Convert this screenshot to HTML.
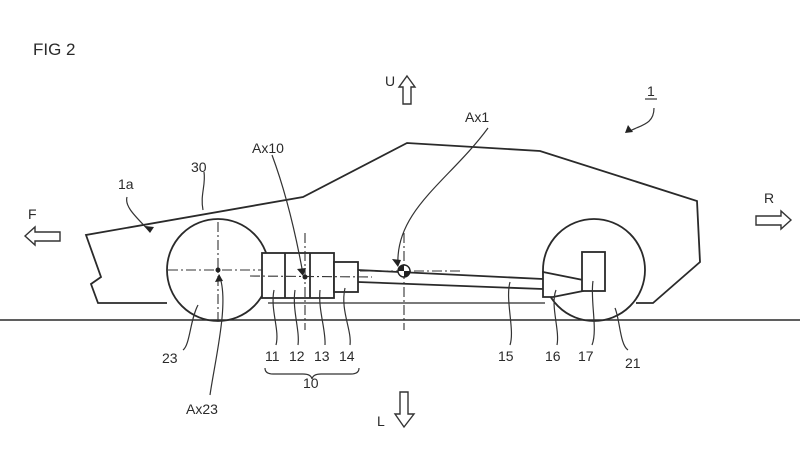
<!DOCTYPE html>
<html><head><meta charset="utf-8"><style>
html,body{margin:0;padding:0;background:#fff;}
svg{display:block;}
text{font-family:"Liberation Sans",sans-serif;fill:#2a2a2a;}
</style></head><body>
<svg width="800" height="450" viewBox="0 0 800 450" xmlns="http://www.w3.org/2000/svg">
<g fill="none" stroke="#2a2a2a" stroke-width="1.8">
<polyline points="167,303 98,303 91,284 101,277 86,235 303,197 407,143 540,151 697,201 700,262 653,303 636,303"/>
<line x1="0" y1="320" x2="800" y2="320" stroke-width="1.5"/>
<line x1="268" y1="303" x2="545" y2="303" stroke-width="1.3"/>
<circle cx="218" cy="270" r="51"/>
<circle cx="594" cy="270" r="51"/>
<rect x="262" y="253" width="72" height="45" fill="#fff"/>
<line x1="285" y1="253" x2="285" y2="298"/>
<line x1="310" y1="253" x2="310" y2="298"/>
<rect x="334" y="262" width="24" height="30" fill="#fff"/>
<line x1="358" y1="270" x2="543" y2="279"/>
<line x1="358" y1="282" x2="543" y2="289"/>
<polygon points="543,272 583,280 583,291 553,297 543,297" fill="#fff"/>
<rect x="582" y="252" width="23" height="39" fill="#fff"/>
</g>
<g stroke="#333" stroke-width="1.1" stroke-dasharray="10,3,2,3" fill="none">
<line x1="218" y1="222" x2="218" y2="320"/>
<line x1="168" y1="270" x2="262" y2="270"/>
<line x1="250" y1="276" x2="372" y2="277"/>
<line x1="305" y1="233" x2="305" y2="330"/>
<line x1="404" y1="233" x2="404" y2="330"/>
<line x1="360" y1="271" x2="460" y2="271"/>
</g>
<circle cx="218" cy="270" r="2.5" fill="#222"/>
<circle cx="305" cy="277" r="2.5" fill="#222"/>
<circle cx="404" cy="271" r="6" fill="#fff" stroke="#222" stroke-width="1.4"/>
<path d="M404,271 L404,265 A6,6 0 0 0 398,271 Z M404,271 L404,277 A6,6 0 0 0 410,271 Z" fill="#222"/>
<g fill="none" stroke="#333" stroke-width="1.2">
<path d="M127,197 C124,208 140,220 150,232"/>
<path d="M204,172 C206,185 200,195 203,210"/>
<path d="M272,155 C285,190 295,230 303,274"/>
<path d="M488,128 C450,180 395,210 398,265"/>
<path d="M654,108 C654,125 640,125 628,132"/>
<path d="M219,275 C230,300 215,360 210,395"/>
<path d="M198,305 C190,320 190,345 183,350"/>
<path d="M274,290 C270,310 280,330 276,345"/>
<path d="M295,290 C292,310 300,330 298,345"/>
<path d="M320,290 C318,310 326,330 325,345"/>
<path d="M345,288 C340,310 352,330 350,345"/>
<path d="M510,282 C505,300 515,330 510,345"/>
<path d="M556,290 C550,305 560,330 557,345"/>
<path d="M593,281 C590,300 598,330 592,345"/>
<path d="M615,308 C620,320 620,345 628,350"/>
<path d="M265,368 q0,6 8,6 h30 q8,0 9,5 q1,-5 9,-5 h30 q8,0 8,-6"/>
</g>
<g fill="#222">
<polygon points="150,233 145,226 154,227"/>
<polygon points="303,276 297,269 306,268"/>
<polygon points="398,267 392,259 401,260"/>
<polygon points="625,133 628,125 633,132"/>
<polygon points="219,274 215,282 223,281"/>
</g>
<g fill="#fff" stroke="#333" stroke-width="1.4">
<polygon points="407,76 415,87 411,87 411,104 403,104 403,87 399,87"/>
<polygon points="404,427 414,414 408,414 408,392 400,392 400,414 395,414"/>
<polygon points="25,236 35,227 35,232 60,232 60,241 35,241 35,245"/>
<polygon points="791,220 781,211 781,216 756,216 756,225 781,225 781,229"/>
</g>
<line x1="645" y1="99" x2="657" y2="99" stroke="#333" stroke-width="1.2"/>
<g font-size="14">
<text x="33" y="55" font-size="17">FIG 2</text>
<text x="385" y="86">U</text>
<text x="377" y="426">L</text>
<text x="28" y="219">F</text>
<text x="764" y="203">R</text>
<text x="647" y="96">1</text>
<text x="465" y="122">Ax1</text>
<text x="118" y="189">1a</text>
<text x="191" y="172">30</text>
<text x="252" y="153">Ax10</text>
<text x="162" y="363">23</text>
<text x="265" y="361">11</text>
<text x="289" y="361">12</text>
<text x="314" y="361">13</text>
<text x="339" y="361">14</text>
<text x="303" y="388">10</text>
<text x="186" y="414">Ax23</text>
<text x="498" y="361">15</text>
<text x="545" y="361">16</text>
<text x="578" y="361">17</text>
<text x="625" y="368">21</text>
</g>
</svg>
</body></html>
